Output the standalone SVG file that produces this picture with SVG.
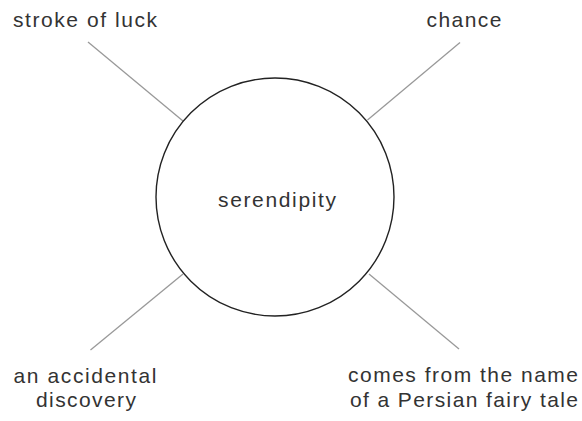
<svg xmlns="http://www.w3.org/2000/svg" width="582" height="421" viewBox="0 0 582 421">
<style>
.lbl{font-family:"Liberation Sans","DejaVu Sans",sans-serif;font-size:21px;fill:#333;text-anchor:middle}
.con{stroke:#999;stroke-width:1.3;fill:none}
</style>
<rect width="582" height="421" fill="#fff"/>
<g id="connectors">
<line class="con" x1="88" y1="42" x2="183" y2="121"/>
<line class="con" x1="460" y1="42.5" x2="367.5" y2="120"/>
<line class="con" x1="183" y1="274" x2="90.5" y2="350"/>
<line class="con" x1="369" y1="274" x2="459" y2="349"/>
</g>
<g id="center">
<circle cx="275" cy="197" r="119" fill="#fff" stroke="#222" stroke-width="1.4"/>
<text class="lbl" x="277" y="206.5" textLength="118" lengthAdjust="spacing">serendipity</text>
</g>
<g id="n-stroke">
<text class="lbl" x="85" y="26.5" textLength="144" lengthAdjust="spacing">stroke of luck</text>
</g>
<g id="n-chance">
<text class="lbl" x="464" y="26.5" textLength="75" lengthAdjust="spacing">chance</text>
</g>
<g id="n-accidental">
<text class="lbl" x="85" y="383" textLength="143" lengthAdjust="spacing">an accidental</text>
<text class="lbl" x="86" y="406.5" textLength="100" lengthAdjust="spacing">discovery</text>
</g>
<g id="n-persian">
<text class="lbl" x="463" y="381.5" textLength="230" lengthAdjust="spacing">comes from the name</text>
<text class="lbl" x="464" y="406.5" textLength="228" lengthAdjust="spacing">of a Persian fairy tale</text>
</g>
</svg>
